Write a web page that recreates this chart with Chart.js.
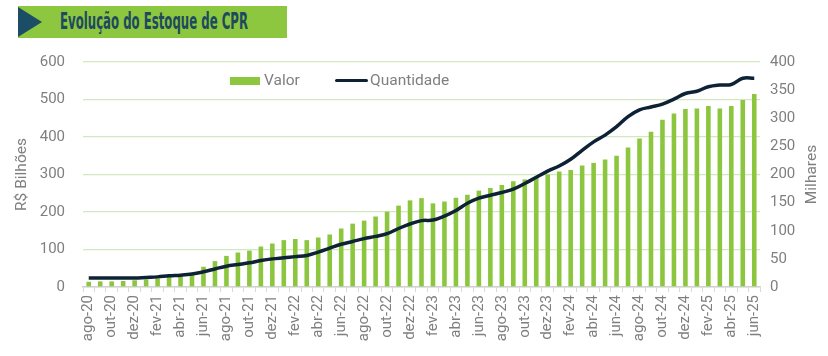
<!DOCTYPE html>
<html>
<head>
<meta charset="utf-8">
<script src="https://cdn.jsdelivr.net/npm/chart.js@4.4.1/dist/chart.umd.min.js"></script>
<style>
  html, body { margin: 0; padding: 0; background: #ffffff; }
  #wrap { position: relative; width: 828px; height: 356px; overflow: hidden; }
  #c { position: absolute; left: 0; top: 0; }
  #banner { position: absolute; left: 18px; top: 6px; width: 269px; height: 32px; background: #8dc63f; }
  #tri { position: absolute; left: 0; top: 1px; width: 0; height: 0;
         border-top: 15px solid transparent; border-bottom: 15px solid transparent; border-left: 24px solid #1b4d66; }
  #title { position: absolute; left: 42px; top: 2px; font-family: "Liberation Sans Narrow", "DejaVu Sans Condensed", sans-serif;
           font-size: 23px; font-weight: bold; color: #1d4a5e; white-space: nowrap; transform-origin: 0 50%; }
  .leg { position: absolute; font-family: Roboto, "Noto Sans", sans-serif; font-size: 15.5px; color: #7f7f7f; white-space: nowrap; }
</style>
</head>
<body>
<div id="wrap">
  <canvas id="c" width="828" height="356"></canvas>
  <div id="banner"><div id="tri"></div><span id="title">Evolução do Estoque de CPR</span></div>
  <div class="leg" style="left:230px; top:77px; width:30px; height:8px; background:#8dc63f;"></div>
  <div class="leg" style="left:264px; top:71px;">Valor</div>
  <div class="leg" style="left:335px; top:79px; width:33px; height:3px; background:#0d2235; border-radius:2px;"></div>
  <div class="leg" style="left:370px; top:71px;">Quantidade</div>
</div>
<script>
const months = [
  "ago-20","set-20","out-20","nov-20","dez-20",
  "jan-21","fev-21","mar-21","abr-21","mai-21","jun-21","jul-21","ago-21","set-21","out-21","nov-21","dez-21",
  "jan-22","fev-22","mar-22","abr-22","mai-22","jun-22","jul-22","ago-22","set-22","out-22","nov-22","dez-22",
  "jan-23","fev-23","mar-23","abr-23","mai-23","jun-23","jul-23","ago-23","set-23","out-23","nov-23","dez-23",
  "jan-24","fev-24","mar-24","abr-24","mai-24","jun-24","jul-24","ago-24","set-24","out-24","nov-24","dez-24",
  "jan-25","fev-25","mar-25","abr-25","mai-25","jun-25"
];
// R$ bilhões (left axis)
const valor = [
  14, 15, 15, 16, 18,
  20, 23, 27, 30, 35, 54, 69, 83, 92, 97, 108, 116,
  125, 128, 125, 132, 140, 156, 169, 177, 188, 201, 217, 231,
  237, 223, 228, 238, 246, 257, 264, 272, 282, 287, 292, 300,
  308, 312, 324, 331, 340, 350, 372, 396, 414, 446, 463, 475,
  476, 483, 476, 483, 499, 515
];
// Milhares (right axis)
const quantidade = [
  16, 16, 16, 16, 16,
  17, 18, 20, 21, 23, 27, 32, 37, 40, 43, 47, 50,
  52, 54, 56, 62, 69, 76, 81, 86, 90, 95, 104, 112,
  118, 119, 126, 136, 149, 158, 163, 168, 174, 184, 195, 206,
  215, 227, 243, 258, 270, 285, 303, 315, 320, 325, 334, 344,
  348, 356, 359, 360, 371, 371
];
const leftTicks = [0, 100, 200, 300, 400, 500, 600];
const rightTicks = [0, 50, 100, 150, 200, 250, 300, 350, 400];
const leftTitle = 'R$ Bilhões';
const rightTitle = 'Milhares';

// fit title width
const t = document.getElementById('title');
const w = t.getBoundingClientRect().width;
t.style.transform = 'scaleX(' + (188 / w) + ')';

const gray = '#7f7f7f';
const FAM = 'Roboto, "Noto Sans", sans-serif';
const tickFont = { family: FAM, size: 15 };

// draws the rotated axis titles (both reading bottom-to-top)
const axisTitles = {
  id: 'axisTitles',
  afterDraw(chart) {
    const ctx = chart.ctx;
    const ca = chart.chartArea;
    const cy = (ca.top + ca.bottom) / 2;
    ctx.save();
    ctx.fillStyle = gray;
    ctx.font = '15.5px ' + FAM;
    ctx.textAlign = 'center';
    ctx.textBaseline = 'middle';
    [[22, leftTitle], [812, rightTitle]].forEach(([x, txt]) => {
      ctx.save();
      ctx.translate(x, cy);
      ctx.rotate(-Math.PI / 2);
      ctx.fillText(txt, 0, 0);
      ctx.restore();
    });
    ctx.restore();
  }
};

new Chart(document.getElementById('c'), {
  data: {
    labels: months,
    datasets: [
      { type: 'line', label: 'Quantidade', data: quantidade, yAxisID: 'y1',
        borderColor: '#0d2235', borderWidth: 3.5, pointRadius: 0, tension: 0.4, order: 0 },
      { type: 'bar', label: 'Valor', data: valor, yAxisID: 'y',
        backgroundColor: '#8cc63e', barPercentage: 0.4, categoryPercentage: 1.0, order: 1 }
    ]
  },
  plugins: [axisTitles],
  options: {
    responsive: false,
    animation: false,
    layout: { padding: { left: 0, right: 0, top: 62, bottom: 0 } },
    plugins: { legend: { display: false }, tooltip: { enabled: false } },
    scales: {
      x: {
        offset: true,
        afterFit: (s) => { s.height = 69; },
        grid: { display: true, drawOnChartArea: false, drawTicks: true, tickLength: 5, color: '#d9d9d9', offset: true },
        border: { display: true, color: '#d0d0d0', width: 1.5 },
        ticks: {
          autoSkip: false, maxRotation: 90, minRotation: 90, color: gray, font: tickFont, padding: 3,
          callback: function(v, i) { return i % 2 === 0 ? months[i] : ''; }
        }
      },
      y: {
        position: 'left', min: 0, max: 600,
        afterFit: (s) => { s.width = 83; },
        afterBuildTicks: (ax) => { ax.ticks = leftTicks.map(v => ({ value: v })); },
        grid: { color: '#d2e8c1', lineWidth: 1.3, drawTicks: false },
        border: { display: false },
        ticks: { color: gray, font: tickFont, padding: 18 }
      },
      y1: {
        position: 'right', min: 0, max: 400,
        afterFit: (s) => { s.width = 68; },
        afterBuildTicks: (ax) => { ax.ticks = rightTicks.map(v => ({ value: v })); },
        grid: { drawOnChartArea: false, drawTicks: false },
        border: { display: false },
        ticks: { color: gray, font: tickFont, padding: 10 }
      }
    }
  }
});
</script>
</body>
</html>
